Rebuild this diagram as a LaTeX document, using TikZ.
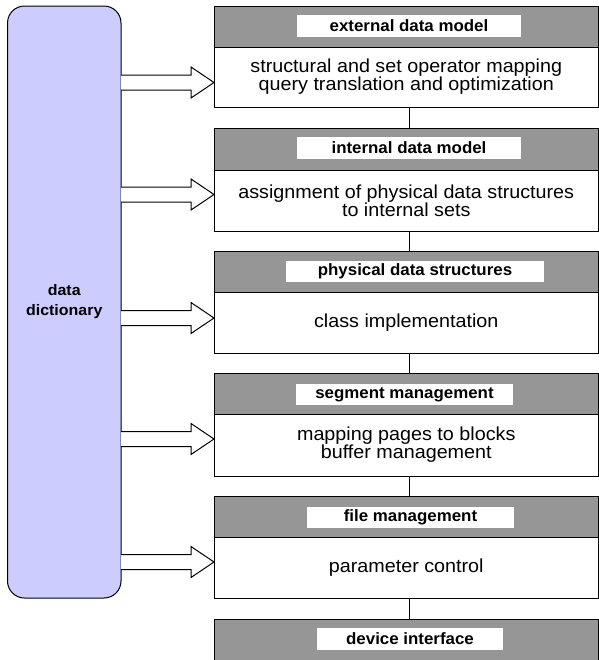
\documentclass[tikz,border=0pt]{standalone}
\usepackage{fontspec}
\setmainfont{Liberation Sans}[FakeStretch=1.05]
\newfontfamily\headfont{Liberation Sans}[FakeStretch=1.03]
\usetikzlibrary{calc}
\definecolor{dictfill}{RGB}{204,204,255}
\definecolor{headgray}{RGB}{150,150,150}

% hollow block arrow from the dictionary into a layer body, tip at #1
\newcommand\feedarrow[2]{%
  \draw[blockarrow] ($(#2.east|-#1)+(0,-7.5)$) -- ($(#1)+(-23,-7.5)$)
    -- ($(#1)+(-23,-15.5)$) -- (#1) -- ($(#1)+(-23,15.5)$)
    -- ($(#1)+(-23,7.5)$) -- ($(#2.east|-#1)+(0,7.5)$);}

\begin{document}
\begin{tikzpicture}[x=0.5pt,y=-0.5pt,
  every node/.style={inner sep=0pt, outer sep=0pt},
  layerhead/.style={draw, line width=0.5pt, fill=headgray,
    minimum width=192.25pt, minimum height=20.5pt},
  layerbody/.style={draw, line width=0.5pt, fill=white,
    minimum width=192.25pt, align=center,
    font=\fontsize{9.4}{9}\selectfont},
  headlabel/.style={fill=white, minimum height=10.75pt,
    font=\headfont\fontsize{8.2}{8.5}\selectfont\bfseries},
  dictbox/.style={draw, line width=0.5pt, fill=dictfill, rounded corners=8.5pt,
    minimum width=56.75pt, minimum height=296pt, align=center,
    font=\fontsize{7.6}{10}\selectfont\bfseries},
  blockarrow/.style={draw, line width=0.5pt, fill=white, line join=miter},
  link/.style={draw, line width=0.5pt}
]
\useasboundingbox (0,0) rectangle (599,660);

% data dictionary
\node[dictbox] (dd) at (64.25,302) {data\\dictionary};

% layers: header + body
\node[layerhead, minimum height=20.5pt] (h1) at (406.25,26.5) {};
\node[layerbody, minimum height=30pt] (b1) at (406.25,77)
  {structural and set operator mapping\\query translation and optimization};
\node[layerhead, minimum height=21pt] (h2) at (406.25,149) {};
\node[layerbody, minimum height=30.5pt] (b2) at (406.25,200.5)
  {assignment of physical data structures\\to internal sets};
\node[layerhead, minimum height=20.5pt] (h3) at (406.25,271.5) {};
\node[layerbody, minimum height=30.5pt] (b3) at (406.25,322.5)
  {class implementation};
\node[layerhead, minimum height=20.5pt] (h4) at (406.25,393.5) {};
\node[layerbody, minimum height=31pt] (b4) at (406.25,445)
  {mapping pages to blocks\\buffer management};
\node[layerhead, minimum height=20.5pt] (h5) at (406.25,516.5) {};
\node[layerbody, minimum height=30.5pt] (b5) at (406.25,567.5)
  {parameter control};
\node[layerhead, minimum height=21pt] (h6) at (406.25,640) {};

% header titles on white strips
\node[headlabel, minimum width=112pt]  (l1) at (409,26)    {external data model};
\node[headlabel, minimum width=112pt]  (l2) at (409,148)   {internal data model};
\node[headlabel, minimum width=129pt]  (l3) at (415,271.5) {physical data structures};
\node[headlabel, minimum width=108.5pt](l4) at (404.5,394.5){segment management};
\node[headlabel, minimum width=103.5pt](l5) at (410.5,517.5){file management};
\node[headlabel, minimum width=93pt]   (l6) at (410,639)   {device interface};

% vertical links between layers
\draw[link] ($(b1.south)+(2.75,0)$) -- ($(h2.north)+(2.75,0)$);
\draw[link] ($(b2.south)+(2.75,0)$) -- ($(h3.north)+(2.75,0)$);
\draw[link] ($(b3.south)+(2.75,0)$) -- ($(h4.north)+(2.75,0)$);
\draw[link] ($(b4.south)+(2.75,0)$) -- ($(h5.north)+(2.75,0)$);
\draw[link] ($(b5.south)+(2.75,0)$) -- ($(h6.north)+(2.75,0)$);

% arrow tips on the layer bodies
\coordinate (t1) at ($(b1.west)+(0,5.5)$);
\coordinate (t2) at ($(b2.west)+(0,-6)$);
\coordinate (t3) at ($(b3.west)+(0,-4.5)$);
\coordinate (t4) at ($(b4.west)+(0,-6)$);
\coordinate (t5) at ($(b5.west)+(0,-5.5)$);
\feedarrow{t1}{dd}
\feedarrow{t2}{dd}
\feedarrow{t3}{dd}
\feedarrow{t4}{dd}
\feedarrow{t5}{dd}
\end{tikzpicture}
\end{document}
